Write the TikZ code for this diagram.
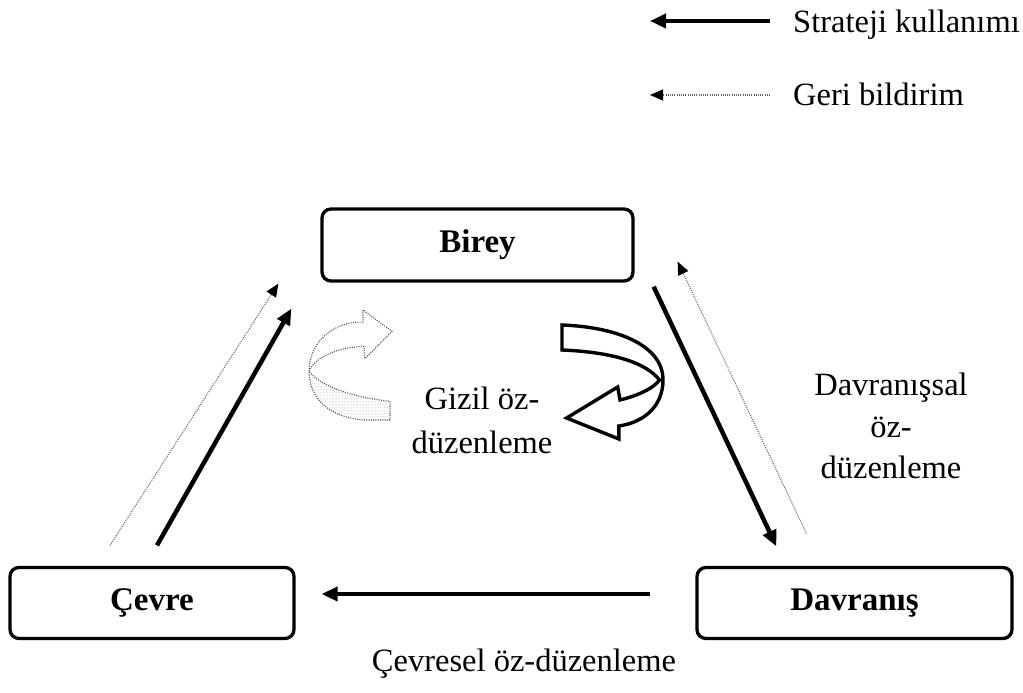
\documentclass[tikz,border=0pt]{standalone}
\usepackage{fontspec}
\setmainfont{Liberation Serif}
\usetikzlibrary{arrows.meta,patterns}
\begin{document}
\begin{tikzpicture}[x=1pt,y=-1pt,
  lbl/.style={font=\fontsize{32.5}{43}\selectfont, inner sep=0pt},
  box/.style={draw, line width=3.3pt, rounded corners=9pt, inner sep=0pt,
    font=\bfseries\fontsize{33}{38}\selectfont},
  strat/.style={line width=4.5pt, -{Triangle[length=16pt,width=14pt]}},
  feed/.style={line width=1.1pt, black!60, dash pattern=on 1pt off 1.2pt,
    -{Triangle[length=13pt,width=11pt,color=black]}},
  ghost/.style={line width=1.1pt, black!70, dash pattern=on 1pt off 1.3pt},
  whitearrow/.style={draw, line width=3.4pt, fill=white, line join=miter}
]
\useasboundingbox (0,0) rectangle (1023,693);

% legend
\node[lbl, anchor=base west] (leg1) at (793,33) {Strateji kullanımı};
\node[lbl, anchor=base west] (leg2) at (793,106) {Geri bildirim};
\coordinate (l1s) at (770,21);
\coordinate (l1e) at (650,21);
\coordinate (l2s) at (770,95);
\coordinate (l2e) at (650,95);
\draw[strat] (l1s) -- (l1e);
\draw[feed] (l2s) -- (l2e);

% boxes
\node[box, minimum width=311pt, minimum height=72pt] (birey) at (477.5,245) {Birey};
\node[box, minimum width=284pt, minimum height=71pt] (cevre) at (152,603) {Çevre};
\node[box, minimum width=315pt, minimum height=71pt] (davr) at (854.5,603) {Davranış};

% connectors
\draw[strat] ([shift={(19,4)}]birey.south east) -- ([shift={(81,-19.5)}]davr.north west);
\draw[feed] ([shift={(111,-32.5)}]davr.north west) -- ([shift={(43,-21)}]birey.south east);
\draw[strat] ([shift={(5,-20.5)}]cevre.north) -- ([shift={(-29,26)}]birey.south west);
\draw[feed] ([shift={(-42,-20.5)}]cevre.north) -- ([shift={(-42,1)}]birey.south west);
\draw[strat] ([shift={(-45,-9)}]davr.west) -- ([shift={(26,-9)}]cevre.east);

% texts
\node[lbl, anchor=north, align=center, font=\fontsize{32.5}{44}\selectfont] (gizil) at (482,387) {Gizil öz-\\düzenleme};
\node[lbl, anchor=north, align=center, font=\fontsize{32.5}{41.5}\selectfont] (davrsal) at (891,373) {Davranışsal\\öz-\\düzenleme};
\node[lbl] (cevresel) at (524,664) {Çevresel öz-düzenleme};

% gray (covert) curved arrow
\fill[pattern=dots, pattern color=black!45]
  (309,371.5) .. controls (309,398.5) and (330,418.1) .. (365,420) -- (390,420) -- (390,401.3)
  .. controls (355,397.6) and (322,387.4) .. (309,371.5) -- cycle;
\draw[ghost]
  (363,322.1) .. controls (333,321.2) and (309,342.6) .. (309,371.5)
  .. controls (309,398.5) and (330,418.1) .. (365,420) -- (390,420) -- (390,401.3)
  .. controls (355,397.6) and (322,387.4) .. (309,371.5)
  .. controls (314,358.5) and (335,347.3) .. (364,346.3)
  -- (365,358.5) -- (392,331.4) -- (363,310) -- cycle;

% white curved arrow
\draw[whitearrow]
  (562,325) .. controls (616.6,327) and (663,345) .. (663,380)
  .. controls (663,405) and (645.6,422) .. (618.9,426)
  -- (618.9,439) -- (566.6,418) -- (617.7,387) -- (620,400)
  .. controls (639.8,395) and (653.7,388) .. (659.5,380)
  .. controls (645.6,362) and (610.8,352) .. (562,350) -- cycle;
\end{tikzpicture}
\end{document}
